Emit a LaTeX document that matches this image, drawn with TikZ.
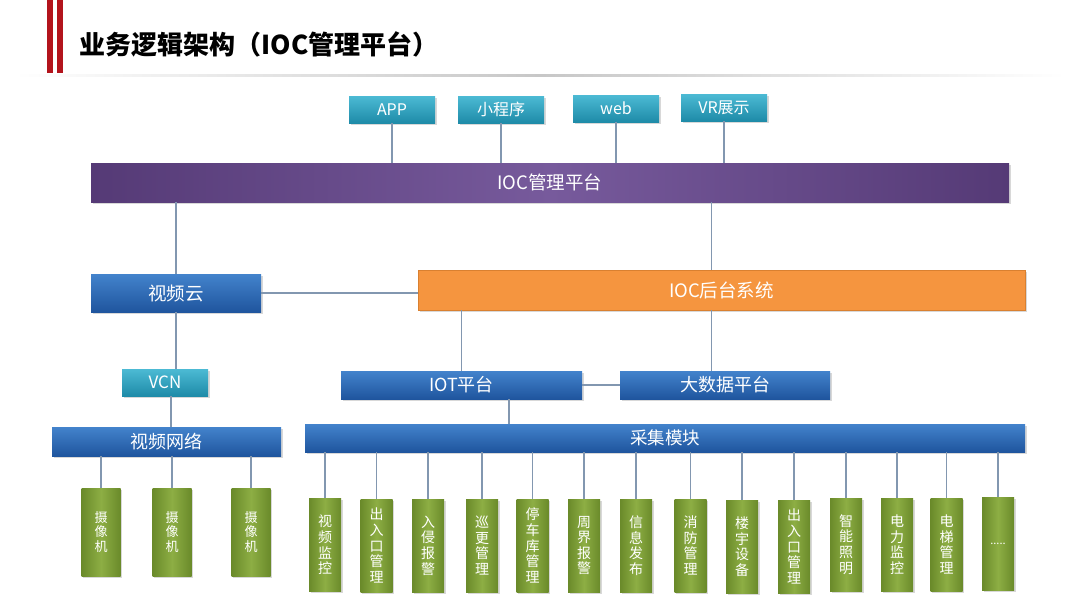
\documentclass[tikz,border=0pt]{standalone}
\usepackage{fontspec}
\setmainfont{Noto Sans CJK SC}
\usetikzlibrary{shadows}
\definecolor{redbar}{HTML}{B3141C}
\definecolor{blueT}{HTML}{4383CC}
\definecolor{blueB}{HTML}{1F559E}
\definecolor{tealT}{HTML}{4CBAD4}
\definecolor{tealB}{HTML}{1E8BA8}
\definecolor{purE}{HTML}{553A76}
\definecolor{purM}{HTML}{775A9C}
\definecolor{orng}{HTML}{F5953F}
\definecolor{orngD}{HTML}{D98030}
\definecolor{grnE}{HTML}{6A8A2A}
\definecolor{grnM}{HTML}{8DAE44}
\definecolor{lnk}{HTML}{8297B0}
\begin{document}
\begin{tikzpicture}[x=1pt,y=-1pt,
  box/.style={inner sep=0pt, text=white, drop shadow={opacity=0.3, shadow xshift=1.5pt, shadow yshift=-1.5pt}},
  bluebar/.style={box, top color=blueT, bottom color=blueB, font=\fontsize{18}{20}\selectfont},
  tealbox/.style={box, top color=tealT, bottom color=tealB, minimum width=86pt, minimum height=27pt, font=\fontsize{16}{18}\selectfont},
  grnbox/.style={box, left color=grnE, right color=grnE, middle color=grnM, minimum width=32pt, minimum height=93pt, align=center, font=\fontsize{14}{15.6}\selectfont},
  cambox/.style={box, left color=grnE, right color=grnE, middle color=grnM, minimum width=39pt, minimum height=88pt, align=center, font=\fontsize{13}{14.5}\selectfont},
  link/.style={draw=lnk, line width=1.1pt}
]
\useasboundingbox (0,0) rectangle (1080,608);
\fill[white] (0,0) rectangle (1080,608);
% title
\fill[redbar] (47,0) rectangle (53,73);
\fill[redbar] (57,0) rectangle (63,73);
\shade[left color=white, right color=white, middle color=black!22] (15,74) rectangle (1065,76.5);
\node[anchor=west, font=\fontsize{26}{30}\selectfont\bfseries, text=black] (title) at (76,44) {业务逻辑架构（IOC管理平台）};
% top row
\node[tealbox] (app) at (392,109.5) {APP};
\node[tealbox] (mini) at (501,109.5) {小程序};
\node[tealbox] (web) at (616,108.5) {web};
\node[tealbox] (vr) at (724,107.5) {VR展示};
\node[box, left color=purE, right color=purE, middle color=purM, minimum width=918pt, minimum height=39pt, font=\fontsize{18.5}{20}\selectfont] (ioc) at (550,182.5) {IOC管理平台};
\foreach \n in {app,mini,web,vr}{\draw[link] (\n.south) -- (\n.south |- ioc.north);}
% second level
\node[bluebar, minimum width=170pt, minimum height=38pt, font=\fontsize{18.5}{20}\selectfont] (cloud) at (176,293) {视频云};
\node[box, fill=orng, draw=orngD, line width=0.6pt, minimum width=607pt, minimum height=40pt, font=\fontsize{18.5}{20}\selectfont] (bk) at (721.5,290) {IOC后台系统};
\draw[link] (cloud.north) -- (cloud.north |- ioc.south);
\draw[link] ([xshift=-10pt]bk.north) -- ([xshift=-10pt]bk.north |- ioc.south);
\draw[link] (cloud.east) -- (cloud.east -| bk.west);
% third level
\node[tealbox, font=\fontsize{17}{18}\selectfont] (vcn) at (165,382.5) {VCN};
\node[bluebar, minimum width=241pt, minimum height=28pt] (iot) at (461.5,385) {IOT平台};
\node[bluebar, minimum width=210pt, minimum height=28pt] (dsj) at (725,385) {大数据平台};
\draw[link] (cloud.south) -- (cloud.south |- vcn.north);
\draw[link] (iot.north) -- (iot.north |- bk.south);
\draw[link] ([xshift=-10pt]bk.south) -- ([xshift=-10pt]bk.south |- dsj.north);
\draw[link] (iot.east) -- (dsj.west);
% fourth level
\node[bluebar, minimum width=229pt, minimum height=29pt] (net) at (166.5,441.5) {视频网络};
\node[bluebar, minimum width=720pt, minimum height=28pt, font=\fontsize{17.5}{20}\selectfont] (cj) at (665,438) {采集模块};
\draw[link] ([xshift=6pt]vcn.south) -- ([xshift=6pt]vcn.south |- net.north);
\draw[link] ([xshift=47.5pt]iot.south) -- ([xshift=47.5pt]iot.south |- cj.north);
% cameras
\node[cambox] (cam1) at (101,532) {摄\\像\\机};
\node[cambox] (cam2) at (172,532) {摄\\像\\机};
\node[cambox] (cam3) at (251,532) {摄\\像\\机};
\foreach \n in {cam1,cam2,cam3}{\draw[link] (\n.north) -- (\n.north |- net.south);}
% modules
\node[grnbox] (m1) at (325,545) {视\\频\\监\\控};
\node[grnbox] (m2) at (376.5,545.5) {出\\入\\口\\管\\理};
\node[grnbox] (m3) at (428,545.5) {入\\侵\\报\\警};
\node[grnbox] (m4) at (482,545.5) {巡\\更\\管\\理};
\node[grnbox] (m5) at (532.5,545.5) {停\\车\\库\\管\\理};
\node[grnbox] (m6) at (584,545.5) {周\\界\\报\\警};
\node[grnbox] (m7) at (636,545.5) {信\\息\\发\\布};
\node[grnbox] (m8) at (690.5,545.5) {消\\防\\管\\理};
\node[grnbox] (m9) at (742,546.5) {楼\\宇\\设\\备};
\node[grnbox] (m10) at (794,546.5) {出\\入\\口\\管\\理};
\node[grnbox] (m11) at (846,544.5) {智\\能\\照\\明};
\node[grnbox] (m12) at (897,544.5) {电\\力\\监\\控};
\node[grnbox] (m13) at (946.5,544.5) {电\\梯\\管\\理};
\node[grnbox, font=\fontsize{11}{12}\selectfont] (m14) at (998,544) {.....};
\foreach \n in {m1,m2,m3,m4,m5,m6,m7,m8,m9,m10,m11,m12,m13,m14}{\draw[link] (\n.north) -- (\n.north |- cj.south);}
\end{tikzpicture}
\end{document}
